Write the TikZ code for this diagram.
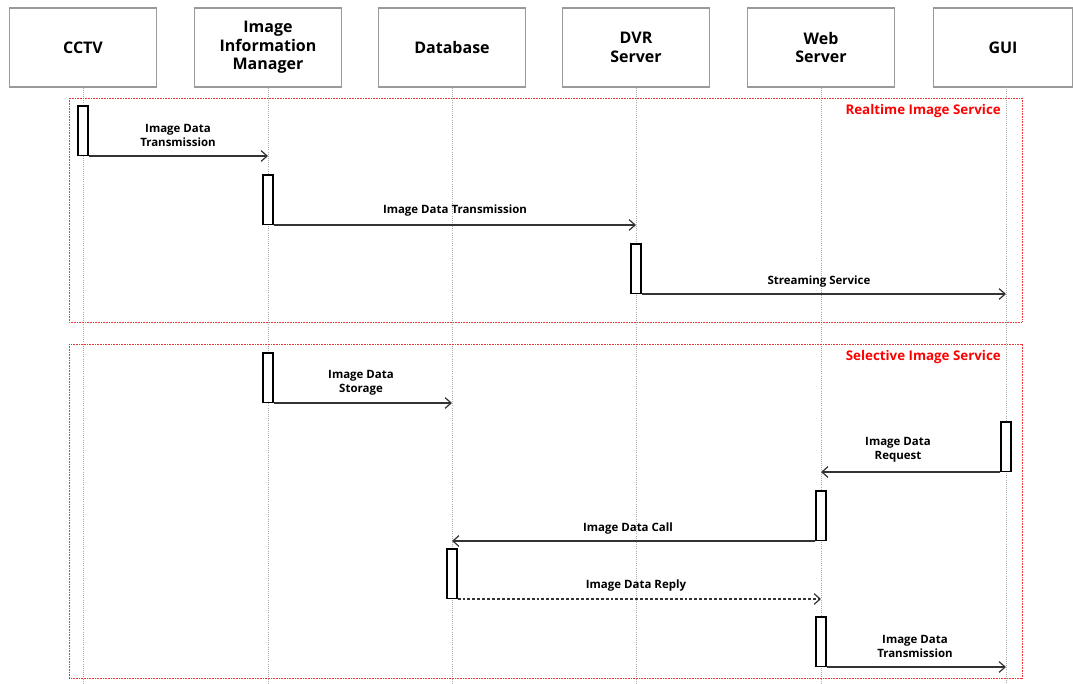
\documentclass[tikz,border=0pt]{standalone}
\usepackage{fontspec}
\setmainfont{Open Sans}
\usetikzlibrary{arrows.meta}
\definecolor{headgray}{HTML}{9A9A9A}
\definecolor{linegray}{HTML}{AAAAAA}
\definecolor{ink}{HTML}{333333}
\definecolor{framered}{HTML}{E8383D}
\begin{document}
\begin{tikzpicture}[x=0.75pt,y=-0.75pt,
  head/.style={draw=headgray,line width=1.1pt,fill=white,minimum width=110pt,minimum height=59pt,
    align=center,font=\fontsize{12}{14}\selectfont\bfseries,inner sep=0pt},
  lifeline/.style={draw=linegray,line width=0.6pt,densely dotted},
  actbar/.style={draw=black,line width=0.9pt,fill=white,minimum width=7.5pt,minimum height=37pt,inner sep=0pt},
  msg/.style={draw=ink,line width=0.9pt,-{Straight Barb[length=4.5pt,width=8pt]}},
  reply/.style={msg,dash pattern=on 2.2pt off 1.5pt},
  msglabel/.style={font=\fontsize{8.6}{10.5}\selectfont\bfseries,align=center,inner sep=0pt,text=black},
  framebox/.style={draw=framered,line width=0.7pt,dash pattern=on 0.6pt off 0.6pt},
  framelabel/.style={font=\fontsize{10}{12}\selectfont\bfseries,text=red,anchor=east,inner sep=0pt}]
\useasboundingbox (0,0) rectangle (1073,684);

% lifeline heads
\node[head] (cctv) at (83,47.5) {CCTV};
\node[head] (iim)  at (268,47.5) {Image\\Information\\Manager};
\node[head] (db)   at (452,47.5) {Database};
\node[head] (dvr)  at (636,47.5) {DVR\\Server};
\node[head] (web)  at (821,47.5) {Web\\Server};
\node[head,minimum width=104pt] (gui) at (1003,47.5) {GUI};

% lifelines
\coordinate (cctvend) at (83,684);
\coordinate (iimend)  at (268,684);
\coordinate (dbend)   at (452,684);
\coordinate (dvrend)  at (636,684);
\coordinate (webend)  at (821,684);
\coordinate (guiend)  at (1006,684);
\draw[lifeline] (cctv.south) -- (cctvend);
\draw[lifeline] (iim.south) -- (iimend);
\draw[lifeline] (db.south) -- (dbend);
\draw[lifeline] (dvr.south) -- (dvrend);
\draw[lifeline] (web.south) -- (webend);
\draw[lifeline] (1006,87) -- (guiend);

% combined fragments
\draw[framebox] (69,98) rectangle (1022,322);
\node[framelabel] (rtlabel) at (1001,111) {Realtime Image Service};
\draw[framebox] (69,344) rectangle (1022,678);
\node[framelabel] (sellabel) at (1001,357) {Selective Image Service};

% activation bars
\node[actbar,anchor=south] (a1) at (83,156) {};
\node[actbar,anchor=south] (a2) at (268,225) {};
\node[actbar,anchor=south] (a3) at (636,294) {};
\node[actbar,anchor=south] (a4) at (268,403) {};
\node[actbar,anchor=south] (a5) at (1006,472) {};
\node[actbar,anchor=south] (a6) at (821,541) {};
\node[actbar,anchor=south] (a7) at (452,599) {};
\node[actbar,anchor=south] (a8) at (821,667) {};

% message targets
\coordinate (t1) at (268,156);
\coordinate (t2) at (636,225);
\coordinate (t3) at (1006,294);
\coordinate (t4) at (452,403);
\coordinate (t5) at (821,472);
\coordinate (t6) at (452,541);
\coordinate (t7) at (821,599);
\coordinate (t8) at (1006,667);

% messages
\draw[msg] (a1.south east) -- (t1);
\node[msglabel] (l1) at (178,135.5) {Image Data\\Transmission};
\draw[msg] (a2.south east) -- (t2);
\node[msglabel] (l2) at (455,211) {Image Data Transmission};
\draw[msg] (a3.south east) -- (t3);
\node[msglabel] (l3) at (819,282) {Streaming Service};
\draw[msg] (a4.south east) -- (t4);
\node[msglabel] (l4) at (361,382.5) {Image Data\\Storage};
\draw[msg] (a5.south west) -- (t5);
\node[msglabel] (l5) at (898,449.5) {Image Data\\Request};
\draw[msg] (a6.south west) -- (t6);
\node[msglabel] (l6) at (628,529) {Image Data Call};
\draw[reply] (a7.south east) -- (t7);
\node[msglabel] (l7) at (636,586) {Image Data Reply};
\draw[msg] (a8.south east) -- (t8);
\node[msglabel] (l8) at (915,646.5) {Image Data\\Transmission};
\end{tikzpicture}
\end{document}
